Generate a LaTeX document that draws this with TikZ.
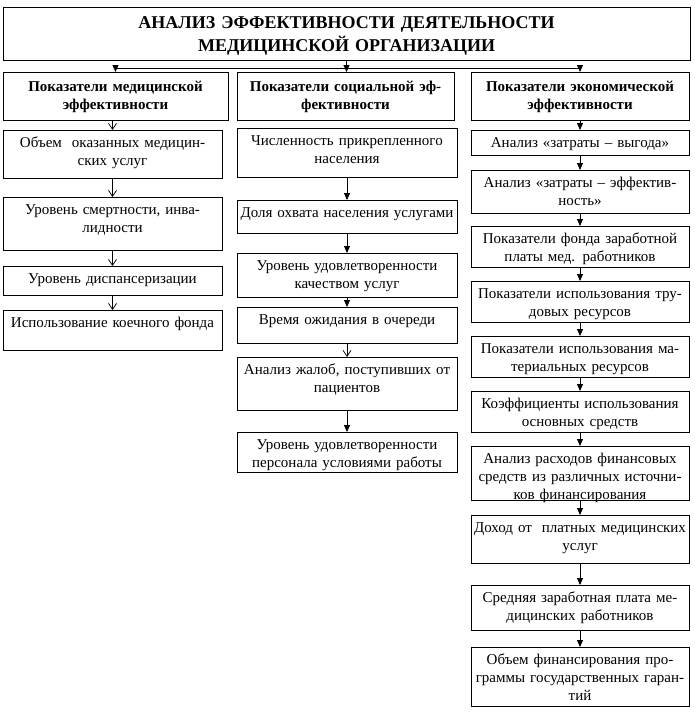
\documentclass[tikz,border=0pt]{standalone}
\usepackage{fontspec}
\setmainfont{Liberation Serif}
\usepackage{tikz}
\usetikzlibrary{arrows.meta, positioning}

\begin{document}
\begin{tikzpicture}[x=1pt, y=-1pt,
    box/.style={rectangle, draw, line width=0.8pt, outer sep=0pt, inner xsep=1pt, inner ysep=0pt, align=center, text height=17pt, font=\fontsize{15}{18.3}\selectfont},
    lbox/.style={box, text width=217pt},
    mbox/.style={box, text width=218pt},
    rbox/.style={box, text width=216pt},
    headbox/.style={box, text height=19pt, text depth=29pt, font=\fontsize{15}{18}\selectfont\bfseries},
    farr/.style={-{Triangle[width=6pt, length=7pt]}, line width=0.9pt},
    varr/.style={-{Straight Barb[width=8pt, length=6pt]}, line width=0.7pt}]
    \useasboundingbox (0,0) rectangle (694,712);

    % Title
    \node (title) [box, anchor=north, text width=685pt, text height=21pt, text depth=32pt, font=\fontsize{18}{23}\selectfont\bfseries] at (346.5,7) {АНАЛИЗ ЭФФЕКТИВНОСТИ ДЕЯТЕЛЬНОСТИ\\МЕДИЦИНСКОЙ ОРГАНИЗАЦИИ};
    \coordinate (split) at (346,68);

    % Headers
    \node (lh) [headbox, anchor=north, text width=223pt] at (115.5,72) {Показатели медицинской\\эффективности};
    \node (mh) [headbox, anchor=north, text width=215pt] at (345.5,72) {Показатели социальной эф-\\фективности};
    \node (rh) [headbox, anchor=north, text width=216pt] at (580,72) {Показатели экономической\\эффективности};

    % Medical column
    \node (l1) [lbox, text depth=31pt, below=10pt of lh, xshift=-3pt] {Объем~~оказанных медицин-\\ских услуг};
    \node (l2) [lbox, text depth=36pt, below=19pt of l1] {Уровень смертности, инва-\\лидности};
    \node (l3) [lbox, text depth=12pt, below=16pt of l2] {Уровень диспансеризации};
    \node (l4) [lbox, text depth=23pt, below=15pt of l3] {Использование коечного фонда};

    % Social column
    \node (m1) [mbox, text depth=32pt, below=8pt of mh, xshift=1.5pt] {Численность прикрепленного\\населения};
    \node (m2) [mbox, text depth=16pt, below=23pt of m1] {Доля охвата населения услугами};
    \node (m3) [mbox, text depth=27pt, below=20pt of m2] {Уровень удовлетворенности\\качеством услуг};
    \node (m4) [mbox, text depth=19pt, below=10pt of m3] {Время ожидания в очереди};
    \node (m5) [mbox, text depth=36pt, below=14pt of m4] {Анализ жалоб, поступивших от\\пациентов};
    \node (m6) [mbox, text depth=23pt, below=22pt of m5] {Уровень удовлетворенности\\персонала условиями работы};

    % Economic column
    \node (r1) [rbox, text depth=8pt, below=10pt of rh] {Анализ «затраты – выгода»};
    \node (r2) [rbox, text depth=26pt, below=15pt of r1] {Анализ «затраты – эффектив-\\ность»};
    \node (r3) [rbox, text depth=24pt, below=13pt of r2] {Показатели фонда заработной\\платы мед. работников};
    \node (r4) [rbox, text depth=24pt, below=14pt of r3] {Показатели использования тру-\\довых ресурсов};
    \node (r5) [rbox, text depth=24pt, below=14pt of r4] {Показатели использования ма-\\териальных ресурсов};
    \node (r6) [rbox, text depth=24pt, below=14pt of r5] {Коэффициенты использования\\основных средств};
    \node (r7) [rbox, text depth=37pt, below=14pt of r6] {Анализ расходов финансовых\\средств из различных источни-\\ков финансирования};
    \node (r8) [rbox, text depth=31pt, below=15pt of r7] {Доход от~~платных медицинских\\услуг};
    \node (r9) [rbox, text depth=28pt, below=22pt of r8] {Средняя заработная плата ме-\\дицинских работников};
    \node (r10) [rbox, text depth=42pt, below=17pt of r9] {Объем финансирования про-\\граммы государственных гаран-\\тий};

    % Edges
    \draw[farr] (title.south) -- (title.south |- mh.north);
    \draw[farr] (split) -| (lh.north);
    \draw[farr] (split) -| (rh.north);

    \draw[varr] (lh.south -| l1.north) -- (l1.north);
    \draw[varr] (l1) -- (l2);
    \draw[varr] (l2) -- (l3);
    \draw[varr] (l3) -- (l4);

    \draw[farr] (m1) -- (m2);
    \draw[farr] (m2) -- (m3);
    \draw[farr] (m3) -- (m4);
    \draw[varr] (m4) -- (m5);
    \draw[farr] (m5) -- (m6);

    \draw[farr] (rh) -- (r1);
    \draw[farr] (r1) -- (r2);
    \draw[farr] (r2) -- (r3);
    \draw[farr] (r3) -- (r4);
    \draw[farr] (r4) -- (r5);
    \draw[farr] (r5) -- (r6);
    \draw[farr] (r6) -- (r7);
    \draw[farr] (r7) -- (r8);
    \draw[farr] (r8) -- (r9);
    \draw[farr] (r9) -- (r10);
\end{tikzpicture}
\end{document}
